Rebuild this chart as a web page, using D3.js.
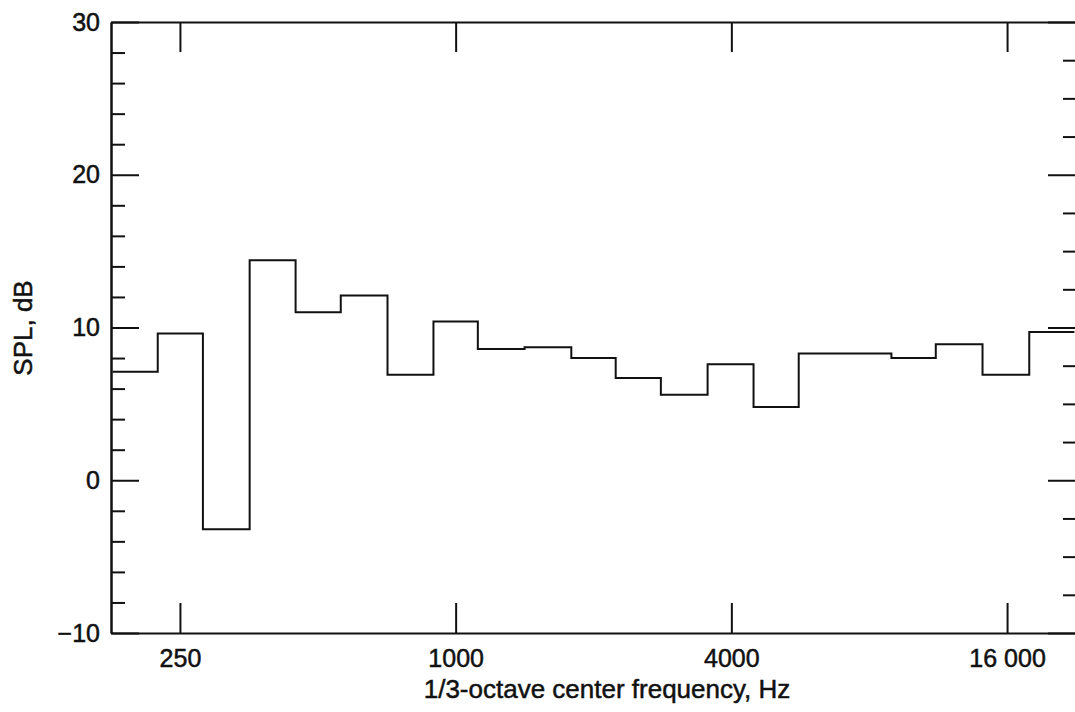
<!DOCTYPE html>
<html>
<head>
<meta charset="utf-8">
<script src="https://cdn.jsdelivr.net/npm/d3@7"></script>
<style>
  body { margin: 0; background: #fff; }
  svg { display: block; font-family: "Liberation Sans", Arial, Helvetica, sans-serif; }
  .axis path, .axis line { stroke: #111; stroke-width: 2; }
  .axis text, .title { fill: #111; stroke: #111; stroke-width: 0.5; }
  .axis text { font-size: 25px; }
</style>
</head>
<body>
<svg width="1075" height="712"></svg>
<script>
// 1/3-octave band centres (nominal, Hz) and the level read in each band
const bands = [200, 250, 315, 400, 500, 630, 800, 1000, 1250, 1600, 2000,
  2500, 3150, 4000, 5000, 6300, 8000, 10000, 12500, 16000, 20000]
const splDb = [7.1, 9.6, -3.2, 14.4, 11.0, 12.1, 6.9, 10.4, 8.6, 8.7, 8.0,
  6.7, 5.6, 7.6, 4.8, 8.3, 8.3, 8.0, 8.9, 6.9, 9.7]
const xTicks = [250, 1000, 4000, 16000]
const xTickLabels = ['250', '1000', '4000', '16 000']
const yMajor = [-10, 0, 10, 20, 30]
// left side has 2 dB minor ticks, the right side 2.5 dB ones
const yMinorLeft = [-8, -6, -4, -2, 2, 4, 6, 8, 12, 14, 16, 18, 22, 24, 26, 28]
const yMinorRight = [-7.5, -5, -2.5, 2.5, 5, 7.5, 12.5, 15, 17.5, 22.5, 25, 27.5]

// plot frame in pixels
const plotLeft = 111, plotRight = 1076, plotTop = 22, plotBottom = 633

const svg = d3.select('svg')

const x = d3.scaleLog()
  .domain([250 / Math.SQRT2, 16000 * Math.SQRT2])
  .range([plotLeft, plotRight])
  .clamp(true)
const y = d3.scaleLinear().domain([-10, 30]).range([plotBottom, plotTop])

// band edges sit half-way (on a log axis) between neighbouring centres
const sixth = Math.pow(2, 1 / 6)
const edges = bands.map((f, i) => i === 0 ? f / sixth : Math.sqrt(bands[i - 1] * f))
edges.push(bands[bands.length - 1] * sixth)

const steps = []
bands.forEach((f, i) => {
  steps.push([edges[i], splDb[i]])
  steps.push([edges[i + 1], splDb[i]])
})

// y axes: minor and major ticks pointing in, on both sides
svg.append('g').attr('class', 'axis')
  .attr('transform', `translate(${plotLeft},0)`)
  .call(d3.axisLeft(y).tickValues(yMinorLeft).tickSize(-14).tickSizeOuter(0).tickFormat(''))
svg.append('g').attr('class', 'axis')
  .attr('transform', `translate(${plotLeft},0)`)
  .call(d3.axisLeft(y).tickValues(yMajor).tickSize(-28).tickSizeOuter(0)
    .tickFormat((d) => d < 0 ? '\u2212' + Math.abs(d) : d))
  .call((g) => g.selectAll('text').attr('x', -11))

svg.append('g').attr('class', 'axis')
  .attr('transform', `translate(${plotRight},0)`)
  .call(d3.axisRight(y).tickValues(yMinorRight).tickSize(-13).tickSizeOuter(0).tickFormat(''))
svg.append('g').attr('class', 'axis')
  .attr('transform', `translate(${plotRight},0)`)
  .call(d3.axisRight(y).tickValues(yMajor).tickSize(-28).tickSizeOuter(0).tickFormat(''))

// x axes: labelled at the bottom, bare ticks along the top
svg.append('g').attr('class', 'axis')
  .attr('transform', `translate(0,${plotBottom})`)
  .call(d3.axisBottom(x).tickValues(xTicks).tickSize(-30).tickSizeOuter(0)
    .tickFormat((d, i) => xTickLabels[i]))
  .call((g) => g.selectAll('text').attr('y', 16).attr('dy', '0.71em'))
svg.append('g').attr('class', 'axis')
  .attr('transform', `translate(0,${plotTop})`)
  .call(d3.axisTop(x).tickValues(xTicks).tickSize(-30).tickSizeOuter(0).tickFormat(''))

// the spectrum as a step trace
svg.append('path')
  .datum(steps)
  .attr('fill', 'none')
  .attr('stroke', '#111')
  .attr('stroke-width', 2)
  .attr('d', d3.line().x((d) => x(d[0])).y((d) => y(d[1])))

svg.append('text')
  .attr('class', 'title')
  .attr('x', 607).attr('y', 698)
  .attr('text-anchor', 'middle')
  .attr('font-size', 26)
  .text('1/3-octave center frequency, Hz')

svg.append('text')
  .attr('class', 'title')
  .attr('transform', 'translate(32,328) rotate(-90)')
  .attr('text-anchor', 'middle')
  .attr('font-size', 26)
  .text('SPL, dB')
</script>
</body>
</html>
